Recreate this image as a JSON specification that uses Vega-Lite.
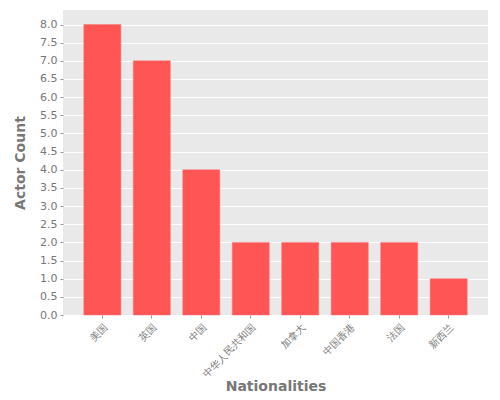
{
  "$schema": "https://vega.github.io/schema/vega-lite/v6.json",
  "autosize": "none",
  "width": 425,
  "height": 305,
  "padding": {"left": 63, "top": 10, "right": 12, "bottom": 85},
  "data": {"values": [
    {"nationality": "美国", "count": 8},
    {"nationality": "英国", "count": 7},
    {"nationality": "中国", "count": 4},
    {"nationality": "中华人民共和国", "count": 2},
    {"nationality": "加拿大", "count": 2},
    {"nationality": "中国香港", "count": 2},
    {"nationality": "法国", "count": 2},
    {"nationality": "新西兰", "count": 1}
  ]},
  "config": {
    "view": {"fill": "#e9e9e9", "stroke": null},
    "font": "DejaVu Sans",
    "axis": {
      "domain": false,
      "gridColor": "#ffffff",
      "gridWidth": 1,
      "tickColor": "#999999",
      "tickSize": 3,
      "labelColor": "#777777",
      "labelFontSize": 11,
      "labelFont": "DejaVu Sans",
      "titleColor": "#777777",
      "titleFontSize": 14,
      "titleFontWeight": "bold",
      "titleFont": "DejaVu Sans"
    }
  },
  "mark": {"type": "bar", "color": "#ff5555", "stroke": "#ff7777", "strokeWidth": 0.5},
  "encoding": {
    "x": {
      "field": "nationality",
      "type": "nominal",
      "sort": null,
      "scale": {"paddingInner": 0.25, "paddingOuter": 0.42},
      "axis": {"title": "Nationalities", "labelAngle": -45, "labelFontSize": 10, "grid": false, "titleY": 75, "titleBaseline": "alphabetic", "labelPadding": 4}
    },
    "y": {
      "field": "count",
      "type": "quantitative",
      "scale": {"domain": [0, 8.4], "nice": false},
      "axis": {"title": "Actor Count", "values": [0,0.5,1,1.5,2,2.5,3,3.5,4,4.5,5,5.5,6,6.5,7,7.5,8], "format": ".1f", "titlePadding": 12, "labelPadding": 3}
    }
  }
}
